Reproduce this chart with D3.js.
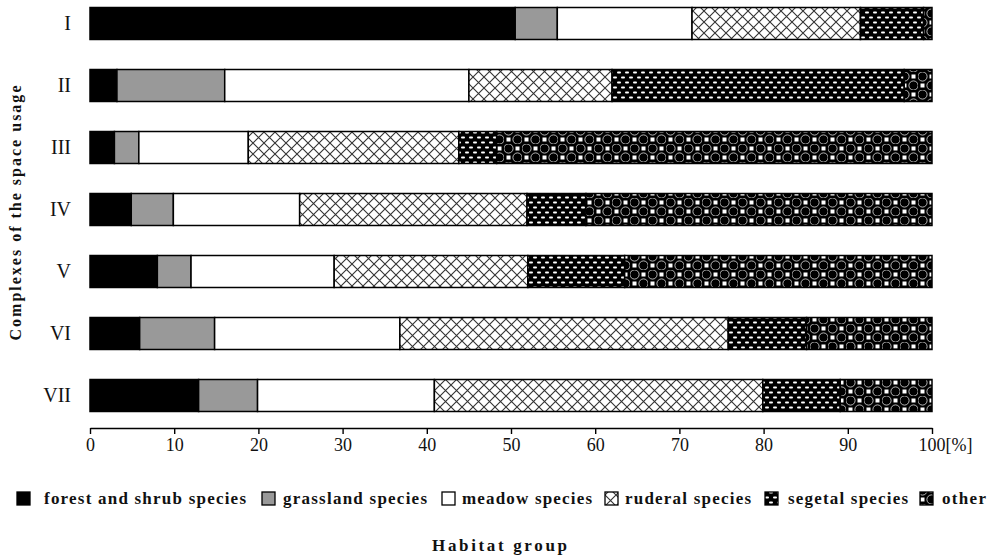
<!DOCTYPE html>
<html>
<head>
<meta charset="utf-8">
<script src="https://cdn.jsdelivr.net/npm/d3@7"></script>
<style>
  html, body { margin: 0; padding: 0; background: #fff; }
  svg { display: block; }
  text { font-family: "Liberation Serif", "DejaVu Serif", serif; fill: #111; }
</style>
</head>
<body>
<div id="chart"></div>
<script>
// ---- data ----
const complexes = ["I", "II", "III", "IV", "V", "VI", "VII"];
const groups = ["forest and shrub species", "grassland species", "meadow species", "ruderal species", "segetal species", "other"];
const forest    = [50.5, 3.2, 2.9, 4.9, 8.0, 5.9, 12.9];
const grassland = [5.0, 12.8, 2.9, 5.0, 4.0, 8.9, 7.0];
const meadow    = [16.0, 29.0, 13.0, 15.0, 17.0, 22.0, 21.0];
const ruderal   = [20.0, 17.0, 25.0, 27.0, 23.0, 39.0, 39.0];
const segetal   = [7.5, 34.7, 4.5, 7.0, 11.5, 9.3, 9.2];
const other     = [1.0, 3.3, 51.7, 41.1, 36.5, 14.9, 10.9];
const xTicks = [0, 10, 20, 30, 40, 50, 60, 70, 80, 90, 100];

const W = 995, H = 558;
const svg = d3.select("#chart").append("svg").attr("width", W).attr("height", H);
const defs = svg.append("defs");

// ruderal: diamond crosshatch
const pR = defs.append("pattern").attr("id", "p-ruderal").attr("patternUnits", "userSpaceOnUse")
  .attr("width", 11).attr("height", 11);
pR.append("rect").attr("width", 11).attr("height", 11).attr("fill", "#fff");
pR.append("path").attr("d", "M0,0L11,11M11,0L0,11M-1,10L1,12M10,-1L12,1")
  .attr("stroke", "#333").attr("stroke-width", 1.1).attr("fill", "none");

// segetal: black with staggered white dashes
const pS = defs.append("pattern").attr("id", "p-segetal").attr("patternUnits", "userSpaceOnUse")
  .attr("width", 8).attr("height", 10);
pS.append("rect").attr("width", 8).attr("height", 10).attr("fill", "#000");
pS.append("rect").attr("x", 1).attr("y", 1.5).attr("width", 4).attr("height", 2).attr("rx", 1).attr("fill", "#fff");
pS.append("rect").attr("x", 5).attr("y", 6.5).attr("width", 4).attr("height", 2).attr("rx", 1).attr("fill", "#fff");
pS.append("rect").attr("x", -3).attr("y", 6.5).attr("width", 4).attr("height", 2).attr("rx", 1).attr("fill", "#fff");

// other: spheres and white squares checker
const pO = defs.append("pattern").attr("id", "p-other").attr("patternUnits", "userSpaceOnUse")
  .attr("width", 18).attr("height", 18);
pO.append("rect").attr("width", 18).attr("height", 18).attr("fill", "#000");
pO.append("rect").attr("x", 11.5).attr("y", 2.5).attr("width", 4).attr("height", 4).attr("fill", "#fff");
pO.append("rect").attr("x", 2.5).attr("y", 11.5).attr("width", 4).attr("height", 4).attr("fill", "#fff");
[[4.5, 4.5], [13.5, 13.5]].forEach(([cx, cy]) => {
  pO.append("circle").attr("cx", cx).attr("cy", cy).attr("r", 4.6).attr("fill", "#000")
    .attr("stroke", "#fff").attr("stroke-width", 0.7);
});

const fills = ["#000", "#999", "#fff", "url(#p-ruderal)", "url(#p-segetal)", "url(#p-other)"];
const series = [forest, grassland, meadow, ruderal, segetal, other];

// ---- scales ----
const x = d3.scaleLinear().domain([0, 100]).range([90, 932]);
const y = d3.scaleBand().domain(complexes).range([-7.5, 426.5]).paddingInner(0.484).paddingOuter(0.242);

const rows = complexes.map((c, i) => {
  const o = { c };
  groups.forEach((g, k) => o[g] = series[k][i]);
  return o;
});
const stacked = d3.stack().keys(groups)(rows);

const gBars = svg.append("g");
stacked.forEach((layer, k) => {
  gBars.append("g").selectAll("rect").data(layer).join("rect")
    .attr("x", d => x(d[0]))
    .attr("y", d => y(d.data.c))
    .attr("width", d => x(d[1]) - x(d[0]))
    .attr("height", y.bandwidth())
    .attr("fill", fills[k])
    .attr("stroke", "#000")
    .attr("stroke-width", 1.5);
});

// ---- x axis ----
const axisY = 428;
const gx = svg.append("g").attr("transform", `translate(0,${axisY})`)
  .call(d3.axisBottom(x).tickValues(xTicks).tickSize(6).tickSizeOuter(0).tickPadding(4).tickFormat(d => d));
gx.select(".domain").attr("stroke", "#000").attr("stroke-width", 1.6);
gx.selectAll(".tick line").attr("stroke", "#000").attr("stroke-width", 1.4);
gx.selectAll(".tick text").attr("font-family", "Liberation Serif, serif").attr("font-size", 18).attr("fill", "#222");
gx.selectAll(".tick").filter(d => d === 100).select("text")
  .text(null)
  .call(t => {
    t.append("tspan").text("100");
    t.append("tspan").text("[%]");
  })
  .attr("text-anchor", "start")
  .attr("dx", -14);

// ---- y labels ----
const gy = svg.append("g").attr("transform", "translate(90,0)")
  .call(d3.axisLeft(y).tickSize(0).tickPadding(19));
gy.select(".domain").remove();
gy.selectAll(".tick text").attr("font-family", "Liberation Serif, serif").attr("font-size", 20).attr("fill", "#222");

// ---- axis titles ----
svg.append("text")
  .attr("transform", "translate(21,213) rotate(-90)")
  .attr("text-anchor", "middle")
  .attr("font-weight", "bold").attr("font-size", 16)
  .attr("textLength", 255).attr("lengthAdjust", "spacing")
  .text("Complexes of the space usage");

svg.append("text")
  .attr("x", 432).attr("y", 551)
  .attr("font-weight", "bold").attr("font-size", 17)
  .attr("textLength", 135).attr("lengthAdjust", "spacing")
  .text("Habitat group");

// ---- legend ----
const swatchX = [17, 262, 442, 605, 765, 920];
const textX   = [44, 283, 462, 625, 788, 942];
const textLen = [202, 144, 130, 126, 120, 44];
const lg = svg.append("g");
groups.forEach((g, k) => {
  lg.append("rect").attr("x", swatchX[k]).attr("y", 492).attr("width", 13).attr("height", 13)
    .attr("fill", fills[k]).attr("stroke", "#000").attr("stroke-width", 1.3);
  lg.append("text").attr("x", textX[k]).attr("y", 504)
    .attr("font-weight", "bold").attr("font-size", 17)
    .attr("textLength", textLen[k]).attr("lengthAdjust", "spacing")
    .text(g);
});
</script>
</body>
</html>
